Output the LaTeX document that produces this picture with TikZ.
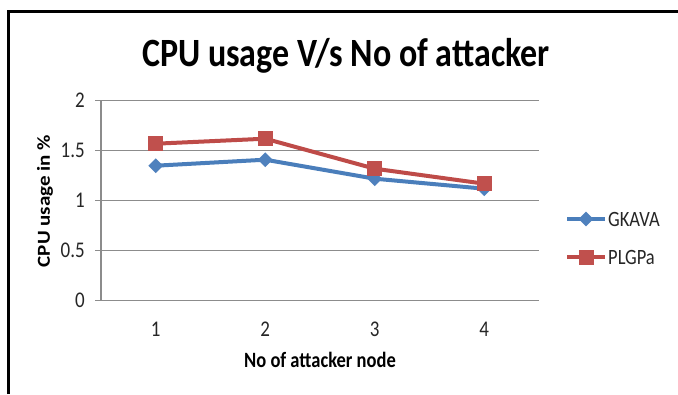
\documentclass[tikz,border=0pt]{standalone}
\usepackage{fontspec}
\setmainfont{Carlito}
\usetikzlibrary{shapes.geometric}
\definecolor{gline}{HTML}{4A7EBB}
\definecolor{gmark}{HTML}{4F81BD}
\definecolor{pline}{HTML}{BE4B48}
\definecolor{pmark}{HTML}{C0504D}
\definecolor{gridc}{HTML}{8C8C8C}
\newcommand{\vs}[1]{\scalebox{1}[1.18]{#1}}
\tikzset{
  gridline/.style={draw=gridc,line width=1.3pt},
  tick/.style={font=\fontsize{19}{19}\selectfont,text=black!85,inner sep=0pt},
  gser/.style={draw=gline,line width=4pt,line join=round},
  pser/.style={draw=pline,line width=4pt,line join=round},
  gdia/.style={diamond,fill=gmark,minimum width=15pt,minimum height=15pt,inner sep=0pt},
  psq/.style={rectangle,fill=pmark,minimum width=15pt,minimum height=15pt,inner sep=0pt},
  legtext/.style={font=\fontsize{18.5}{18.5}\selectfont,text=black!85,anchor=west,inner sep=0pt},
}
\begin{document}
\begin{tikzpicture}[x=1pt,y=-1pt]
\useasboundingbox (0,0) rectangle (678,394);
\fill[white] (0,0) rectangle (678,394);
% frame
\draw[line width=3pt] (8,394) -- (8,11.5) -- (678,11.5);
% title
\node[font=\bfseries\fontsize{34}{34}\selectfont,inner sep=0pt,anchor=base] (title) at (346,66.5) {\vs{CPU usage V/s No of attacker}};
% grid
\foreach \v/\lab in {0/0,0.5/0.5,1/1,1.5/1.5,2/2}{
  \draw[gridline] (95,{300.7-100*\v}) -- (539,{300.7-100*\v});
  \node[tick,anchor=east] (yl\v) at (85,{300.7-100*\v}) {\vs{\lab}};
}
\draw[gridline] (101,100.7) -- (101,300.7);
\foreach \i/\xx in {1/155.75,2/265.25,3/374.75,4/484.25}{
  \node[tick] (xl\i) at (\xx,329) {\vs{\i}};
}
% axis titles
\node[font=\bfseries\fontsize{18.5}{18.5}\selectfont,inner sep=0pt] (xtitle) at (320,360) {\vs{No of attacker node}};
\node[font=\bfseries\fontsize{18.3}{18.3}\selectfont,inner sep=0pt,rotate=90] (ytitle) at (45,201) {\scalebox{1.15}[1]{CPU usage in \%}};
% data
\coordinate (g1) at (155.75,{300.7-100*1.35});
\coordinate (g2) at (265.25,{300.7-100*1.41});
\coordinate (g3) at (374.75,{300.7-100*1.22});
\coordinate (g4) at (484.25,{300.7-100*1.12});
\coordinate (p1) at (155.75,{300.7-100*1.57});
\coordinate (p2) at (265.25,{300.7-100*1.62});
\coordinate (p3) at (374.75,{300.7-100*1.32});
\coordinate (p4) at (484.25,{300.7-100*1.17});
\draw[gser] (g1) -- (g2) -- (g3) -- (g4);
\draw[pser] (p1) -- (p2) -- (p3) -- (p4);
\foreach \i in {1,2,3,4}{
  \node[gdia] (gm\i) at (g\i) {};
}
\foreach \i in {1,2,3,4}{
  \node[psq] (pm\i) at (p\i) {};
}
% legend
\coordinate (lga) at (567,219);
\coordinate (lgb) at (605,219);
\draw[gser] (lga) -- (lgb);
\node[gdia] (lgm) at (586,219) {};
\node[legtext] (lgt) at (608,219) {\vs{GKAVA}};
\coordinate (lpa) at (567,257);
\coordinate (lpb) at (605,257);
\draw[pser] (lpa) -- (lpb);
\node[psq] (lpm) at (586,257) {};
\node[legtext] (lpt) at (608,257) {\vs{PLGPa}};
\end{tikzpicture}
\end{document}
